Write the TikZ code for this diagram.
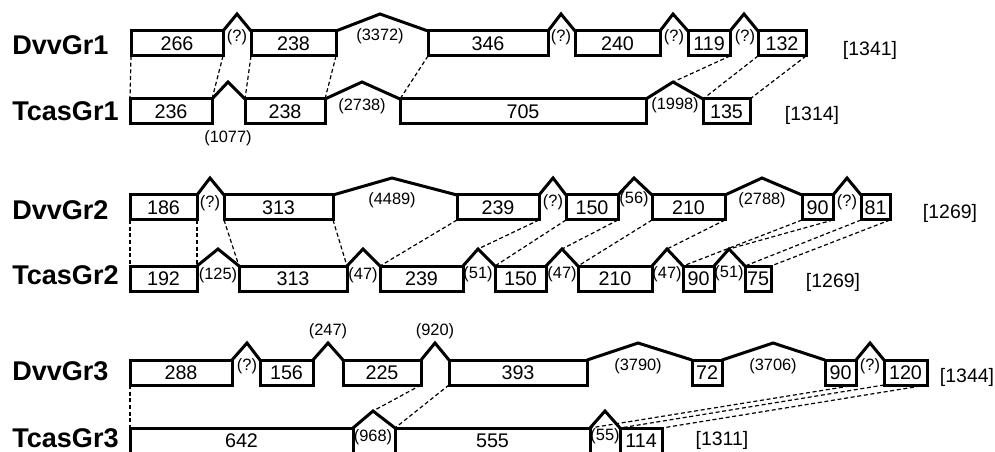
\documentclass[tikz,border=0pt]{standalone}
\usepackage{fontspec}
\setmainfont{Liberation Sans}
\usepackage{xcolor}

\begin{document}
\begin{tikzpicture}[x=0.75pt,y=0.75pt,yscale=-1,xscale=1,
    exon/.style={draw, line width=2.25pt, inner sep=0pt, outer sep=0pt, minimum height=25*0.75pt, font=\fontsize{14.8}{16}\selectfont},
    intron/.style={line width=2.25pt},
    match/.style={line width=0.9pt, dash pattern=on 3pt off 2pt},
    ilabel/.style={inner sep=0pt, font=\fontsize{12.3}{14}\selectfont},
    glabel/.style={anchor=west, inner sep=0pt, font=\fontsize{20.3}{22}\selectfont\bfseries},
    tlabel/.style={inner sep=0pt, font=\fontsize{14.6}{16}\selectfont}]
    %set diagram from (0,0) to (995,452)
    \useasboundingbox (0,0) rectangle (995,452);

    % Text Node
    \node [glabel] (g1) at (12,45) {DvvGr1};
    \node [glabel] (g2) at (12,111) {TcasGr1};
    \node [glabel] (g3) at (12,210) {DvvGr2};
    \node [glabel] (g4) at (12,275) {TcasGr2};
    \node [glabel] (g5) at (12,371) {DvvGr3};
    \node [glabel] (g6) at (12,438.5) {TcasGr3};

    %Shape: Rectangle, DvvGr1
    \node [exon, minimum width=92*0.75pt] (d1a) at (177,43.5) {266};
    \node [exon, minimum width=85*0.75pt] (d1b) at (293.5,43.5) {238};
    \node [exon, minimum width=120*0.75pt] (d1c) at (488,43.5) {346};
    \node [exon, minimum width=85*0.75pt] (d1d) at (617.5,43.5) {240};
    \node [exon, minimum width=42*0.75pt] (d1e) at (709,43.5) {119};
    \node [exon, minimum width=48*0.75pt] (d1f) at (782,43.5) {132};
    %Shape: Rectangle, TcasGr1
    \node [exon, minimum width=82*0.75pt] (t1a) at (171,111.5) {236};
    \node [exon, minimum width=80*0.75pt] (t1b) at (285,111.5) {238};
    \node [exon, minimum width=246*0.75pt] (t1c) at (523,111.5) {705};
    \node [exon, minimum width=47*0.75pt] (t1d) at (726.5,111.5) {135};

    %Shape: Rectangle, DvvGr2
    \node [exon, minimum width=67*0.75pt] (d2a) at (163.5,207.5) {186};
    \node [exon, minimum width=109*0.75pt] (d2b) at (278.5,207.5) {313};
    \node [exon, minimum width=82*0.75pt] (d2c) at (498,207.5) {239};
    \node [exon, minimum width=52*0.75pt] (d2d) at (592,207.5) {150};
    \node [exon, minimum width=73*0.75pt] (d2e) at (688.5,207.5) {210};
    \node [exon, minimum width=31*0.75pt] (d2f) at (817.5,207.5) {90};
    \node [exon, minimum width=29*0.75pt] (d2g) at (875.5,207.5) {81};
    %Shape: Rectangle, TcasGr2
    \node [exon, minimum width=67*0.75pt] (t2a) at (163.5,278.5) {192};
    \node [exon, minimum width=108*0.75pt] (t2b) at (293,278.5) {313};
    \node [exon, minimum width=83*0.75pt] (t2c) at (421.5,278.5) {239};
    \node [exon, minimum width=51*0.75pt] (t2d) at (520.5,278.5) {150};
    \node [exon, minimum width=74*0.75pt] (t2e) at (615,278.5) {210};
    \node [exon, minimum width=31*0.75pt] (t2f) at (698.5,278.5) {90};
    \node [exon, minimum width=26*0.75pt] (t2g) at (758,278.5) {75};

    %Shape: Rectangle, DvvGr3
    \node [exon, minimum width=102*0.75pt] (d3a) at (181,372.5) {288};
    \node [exon, minimum width=53*0.75pt] (d3b) at (286.5,372.5) {156};
    \node [exon, minimum width=78*0.75pt] (d3c) at (382,372.5) {225};
    \node [exon, minimum width=138*0.75pt] (d3d) at (518,372.5) {393};
    \node [exon, minimum width=30*0.75pt] (d3e) at (707,372.5) {72};
    \node [exon, minimum width=31*0.75pt] (d3f) at (840.5,372.5) {90};
    \node [exon, minimum width=43*0.75pt] (d3g) at (905.5,372.5) {120};
    %Shape: Rectangle, TcasGr3
    \node [exon, minimum width=223*0.75pt] (t3a) at (241.5,440.5) {642};
    \node [exon, minimum width=195*0.75pt] (t3b) at (492.5,440.5) {555};
    \node [exon, minimum width=42*0.75pt] (t3c) at (641,440.5) {114};

    %Intron peaks
    \coordinate (p1a) at (237,14);  \coordinate (p1b) at (380,14);
    \coordinate (p1c) at (561,14);  \coordinate (p1d) at (673,14);
    \coordinate (p1e) at (744,14);
    \coordinate (q1a) at (228,82);  \coordinate (q1b) at (362,82);
    \coordinate (q1c) at (673,82);
    \coordinate (p2a) at (210,178); \coordinate (p2b) at (392,178);
    \coordinate (p2c) at (553,178); \coordinate (p2d) at (634,178);
    \coordinate (p2e) at (762,178); \coordinate (p2f) at (847,178);
    \coordinate (q2a) at (218,249); \coordinate (q2b) at (363,249);
    \coordinate (q2c) at (478,249); \coordinate (q2d) at (562,249);
    \coordinate (q2e) at (667,249); \coordinate (q2f) at (729,249);
    \coordinate (p3a) at (247,343); \coordinate (p3b) at (328,343);
    \coordinate (p3c) at (435,343); \coordinate (p3d) at (638,343);
    \coordinate (p3e) at (773,343); \coordinate (p3f) at (870,343);
    \coordinate (q3a) at (373,411); \coordinate (q3b) at (605,411);

    %Straight Lines, introns
    \draw [intron] (d1a.north east) -- (p1a) -- (d1b.north west);
    \draw [intron] (d1b.north east) -- (p1b) -- (d1c.north west);
    \draw [intron] (d1c.north east) -- (p1c) -- (d1d.north west);
    \draw [intron] (d1d.north east) -- (p1d) -- (d1e.north west);
    \draw [intron] (d1e.north east) -- (p1e) -- (d1f.north west);
    \draw [intron] (t1a.north east) -- (q1a) -- (t1b.north west);
    \draw [intron] (t1b.north east) -- (q1b) -- (t1c.north west);
    \draw [intron] (t1c.north east) -- (q1c) -- (t1d.north west);
    \draw [intron] (d2a.north east) -- (p2a) -- (d2b.north west);
    \draw [intron] (d2b.north east) -- (p2b) -- (d2c.north west);
    \draw [intron] (d2c.north east) -- (p2c) -- (d2d.north west);
    \draw [intron] (d2d.north east) -- (p2d) -- (d2e.north west);
    \draw [intron] (d2e.north east) -- (p2e) -- (d2f.north west);
    \draw [intron] (d2f.north east) -- (p2f) -- (d2g.north west);
    \draw [intron] (t2a.north east) -- (q2a) -- (t2b.north west);
    \draw [intron] (t2b.north east) -- (q2b) -- (t2c.north west);
    \draw [intron] (t2c.north east) -- (q2c) -- (t2d.north west);
    \draw [intron] (t2d.north east) -- (q2d) -- (t2e.north west);
    \draw [intron] (t2e.north east) -- (q2e) -- (t2f.north west);
    \draw [intron] (t2f.north east) -- (q2f) -- (t2g.north west);
    \draw [intron] (d3a.north east) -- (p3a) -- (d3b.north west);
    \draw [intron] (d3b.north east) -- (p3b) -- (d3c.north west);
    \draw [intron] (d3c.north east) -- (p3c) -- (d3d.north west);
    \draw [intron] (d3d.north east) -- (p3d) -- (d3e.north west);
    \draw [intron] (d3e.north east) -- (p3e) -- (d3f.north west);
    \draw [intron] (d3f.north east) -- (p3f) -- (d3g.north west);
    \draw [intron] (t3a.north east) -- (q3a) -- (t3b.north west);
    \draw [intron] (t3b.north east) -- (q3b) -- (t3c.north west);

    %Straight Lines, matching exon ends
    \draw [match] (d1a.south west) -- (t1a.north west);
    \draw [match] (d1a.south east) -- (t1a.north east);
    \draw [match] (d1b.south west) -- (t1b.north west);
    \draw [match] (d1b.south east) -- (t1b.north east);
    \draw [match] (d1c.south west) -- (t1c.north west);
    \draw [match] (d1e.south east) -- (q1c);
    \draw [match] (d1f.south west) -- (t1d.north west);
    \draw [match] (d1f.south east) -- (t1d.north east);

    \draw [match] (d2a.south west) -- (t2a.north west);
    \draw [match] (d2a.south east) -- (t2a.north east);
    \draw [match] (d2b.south west) -- (t2b.north west);
    \draw [match] (d2b.south east) -- (t2b.north east);
    \draw [match] (d2c.south west) -- (t2c.north west);
    \draw [match] (d2c.south east) -- (q2c);
    \draw [match] (d2d.south west) -- (t2d.north west);
    \draw [match] (d2d.south east) -- (q2d);
    \draw [match] (d2e.south west) -- (t2e.north west);
    \draw [match] (d2e.south east) -- (q2e);
    \draw [match] (d2f.south west) -- (t2f.north west);
    \draw [match] (d2f.south east) -- (q2f);
    \draw [match] (d2g.south west) -- (t2g.north west);
    \draw [match] (d2g.south east) -- (t2g.north east);

    \draw [match] (d3a.south west) -- (t3a.north west);
    \draw [match] (d3c.south east) -- (q3a);
    \draw [match] (d3d.south west) -- (t3b.north west);
    \draw [match] (d3f.south east) -- (t3b.north east);
    \draw [match] (d3g.south west) -- (t3c.north west);
    \draw [match] (d3g.south east) -- (t3c.north east);

    % Text Node, intron lengths
    \node [ilabel] (l1a) at (237,37) {(?)};
    \node [ilabel] (l1b) at (380,36) {(3372)};
    \node [ilabel] (l1c) at (561,37) {(?)};
    \node [ilabel] (l1d) at (674,37) {(?)};
    \node [ilabel] (l1e) at (745,37) {(?)};
    \node [ilabel] (m1a) at (228,138) {(1077)};
    \node [ilabel] (m1b) at (362,106) {(2738)};
    \node [ilabel] (m1c) at (675,105) {(1998)};
    \node [ilabel] (l2a) at (210,203) {(?)};
    \node [ilabel] (l2b) at (392,200) {(4489)};
    \node [ilabel] (l2c) at (553,202) {(?)};
    \node [ilabel] (l2d) at (634,199) {(56)};
    \node [ilabel] (l2e) at (762,200) {(2788)};
    \node [ilabel] (l2f) at (847,202) {(?)};
    \node [ilabel] (m2a) at (218,275) {(125)};
    \node [ilabel] (m2b) at (363,275) {(47)};
    \node [ilabel] (m2c) at (478,274) {(51)};
    \node [ilabel] (m2d) at (562,274) {(47)};
    \node [ilabel] (m2e) at (667,274) {(47)};
    \node [ilabel] (m2f) at (729,273) {(51)};
    \node [ilabel] (l3a) at (247,366) {(?)};
    \node [ilabel] (l3b) at (328,331) {(247)};
    \node [ilabel] (l3c) at (435,331) {(920)};
    \node [ilabel] (l3d) at (638,366) {(3790)};
    \node [ilabel] (l3e) at (773,366) {(3706)};
    \node [ilabel] (l3f) at (870,366) {(?)};
    \node [ilabel] (m3a) at (373,437) {(968)};
    \node [ilabel] (m3b) at (605,436) {(55)};

    % Text Node, totals
    \node [tlabel] (s1) at (870,50) {[1341]};
    \node [tlabel] (s2) at (812,115) {[1314]};
    \node [tlabel] (s3) at (950,213) {[1269]};
    \node [tlabel] (s4) at (833,282) {[1269]};
    \node [tlabel] (s5) at (967,377) {[1344]};
    \node [tlabel] (s6) at (722,440) {[1311]};
\end{tikzpicture}
\end{document}
